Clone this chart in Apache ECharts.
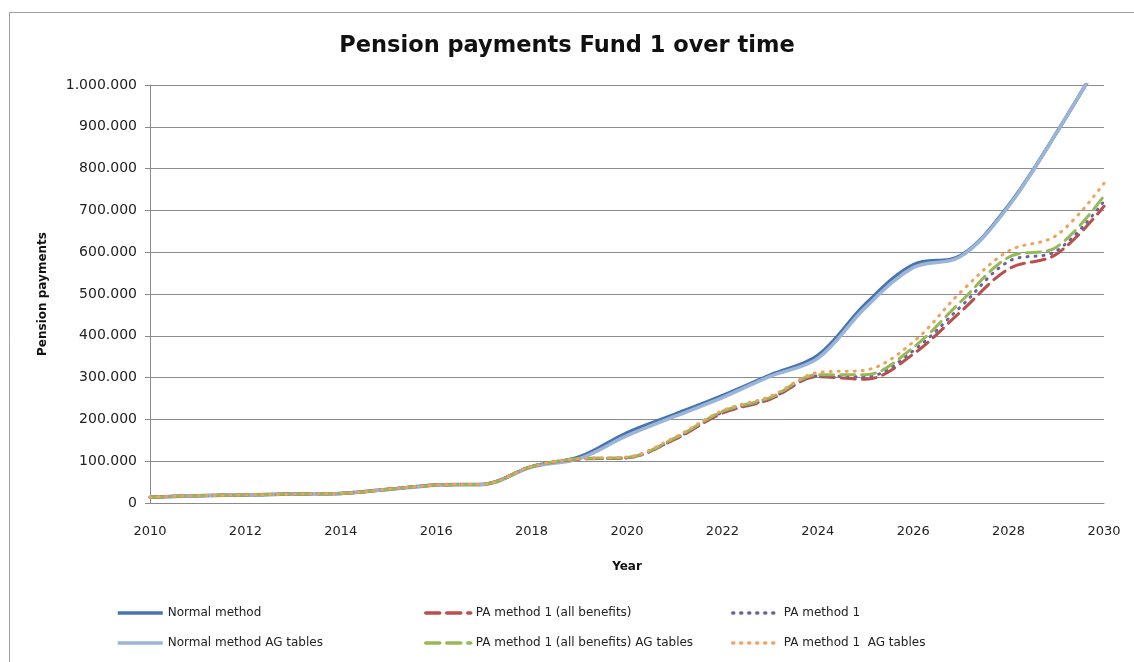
<!DOCTYPE html>
<html>
<head>
<meta charset="utf-8">
<title>Pension payments Fund 1 over time</title>
<script src="https://cdn.jsdelivr.net/npm/echarts@6/dist/echarts.min.js"></script>
<style>
  html, body { margin: 0; padding: 0; background: #ffffff; }
  #chart { width: 1134px; height: 662px; }
</style>
</head>
<body>
<div id="chart"></div>
<script>
// Years on the horizontal axis
const years = ['2010', '2011', '2012', '2013', '2014', '2015', '2016', '2017', '2018', '2019', '2020',
               '2021', '2022', '2023', '2024', '2025', '2026', '2027', '2028', '2029', '2030'];

// Yearly pension payments per method
const normalMethod =          [14000, 17500, 19000, 21500, 23000, 33000, 43000, 45000, 87000, 110000, 168000,
                               212000, 257000, 306000, 353000, 476000, 570000, 592000, 712000, 885000, 1075000];
const normalMethodAG =        [14000, 17500, 19000, 21500, 23000, 32000, 42500, 44500, 86000, 106000, 161000,
                               207000, 252000, 303000, 346000, 468000, 563000, 590000, 710000, 885000, 1075000];
const paAllBenefits =         [14000, 17500, 19000, 21500, 23000, 33000, 43000, 45000, 87000, 105000, 108000,
                               152000, 215000, 248000, 302000, 296000, 356000, 458000, 560000, 595000, 710000];
const paMethod1 =             [14000, 17500, 19000, 21500, 23000, 33000, 43000, 45000, 87000, 105000, 108000,
                               153000, 217000, 250000, 304000, 302000, 364000, 470000, 578000, 603000, 722000];
const paAllBenefitsAG =       [14000, 17500, 19000, 21500, 23000, 33000, 43000, 45000, 87000, 106000, 109000,
                               155000, 219000, 252000, 307000, 307000, 372000, 482000, 588000, 612000, 735000];
const paMethod1AG =           [14000, 17500, 19000, 21500, 23000, 33000, 43000, 45000, 87000, 106000, 110000,
                               157000, 221000, 255000, 312000, 318000, 385000, 505000, 603000, 640000, 765000];

// Value-axis tick settings
const yMin = 0;
const yMax = 1000000;
const yStep = 100000;

const FONT = 'DejaVu Sans';
const dotted = [1, 7];
const dashed = [14, 7];

function thousands(v) {
  return String(v).replace(/\B(?=(\d{3})+(?!\d))/g, '.');
}

function lineSeries(name, data, color, width, type, z) {
  return {
    name: name,
    type: 'line',
    data: data,
    smooth: 0.35,
    symbol: 'none',
    z: z,
    lineStyle: { color: color, width: width, type: type, cap: type === 'solid' ? 'butt' : 'round' },
    itemStyle: { color: color }
  };
}

const chart = echarts.init(document.getElementById('chart'), null, { renderer: 'canvas' });

const legendCommon = {
  orient: 'vertical',
  top: 602,
  itemHeight: 14,
  itemGap: 18,
  selectedMode: false,
  itemStyle: { opacity: 0 },
  lineStyle: { width: 3.5 },
  textStyle: { fontFamily: FONT, fontSize: 12, color: '#222' }
};

chart.setOption({
  backgroundColor: '#ffffff',
  animation: false,
  graphic: [{
    type: 'rect',
    shape: { x: 9.5, y: 12.5, width: 1200, height: 700 },
    style: { fill: 'none', stroke: '#a0a0a0', lineWidth: 1 },
    silent: true
  }],
  title: {
    text: 'Pension payments Fund 1 over time',
    left: 'center',
    top: 30,
    textStyle: { fontFamily: FONT, fontSize: 22.5, fontWeight: 'bold', color: '#111' }
  },
  legend: [
    Object.assign({ left: 111, itemWidth: 45, data: ['Normal method', 'Normal method AG tables'] }, legendCommon),
    Object.assign({ left: 419, itemWidth: 45, data: ['PA method 1 (all benefits)', 'PA method 1 (all benefits) AG tables'] }, legendCommon),
    Object.assign({ left: 726, itemWidth: 46, data: ['PA method 1', 'PA method 1  AG tables'] }, legendCommon)
  ],
  grid: { left: 150, right: 30, top: 85, bottom: 159, containLabel: false },
  xAxis: {
    type: 'category',
    data: years,
    boundaryGap: false,
    name: 'Year',
    nameLocation: 'middle',
    nameGap: 58,
    nameTextStyle: { fontFamily: FONT, fontSize: 12, fontWeight: 'bold', color: '#111' },
    axisLine: { lineStyle: { color: '#8a8a8a', width: 1 } },
    axisTick: { show: false },
    axisLabel: { interval: 1, margin: 22, fontFamily: FONT, fontSize: 13, color: '#222' },
    splitLine: { show: false }
  },
  yAxis: {
    type: 'value',
    min: yMin,
    max: yMax,
    interval: yStep,
    name: 'Pension payments',
    nameLocation: 'middle',
    nameRotate: 90,
    nameGap: 101,
    nameTextStyle: { fontFamily: FONT, fontSize: 12, fontWeight: 'bold', color: '#111' },
    axisLine: { show: true, lineStyle: { color: '#8a8a8a', width: 1 } },
    axisTick: { show: true, length: 5, lineStyle: { color: '#8a8a8a' } },
    axisLabel: { margin: 13, fontFamily: FONT, fontSize: 14, color: '#222', formatter: thousands },
    splitLine: { show: true, lineStyle: { color: '#8c8c8c', width: 1 } }
  },
  series: [
    lineSeries('Normal method', normalMethod, '#4874ae', 3.5, 'solid', 2),
    lineSeries('PA method 1 (all benefits)', paAllBenefits, '#ba4f4b', 3, dashed, 3),
    lineSeries('PA method 1', paMethod1, '#6a64a0', 3, dotted, 3),
    lineSeries('Normal method AG tables', normalMethodAG, '#9ab5d8', 3.5, 'solid', 2),
    lineSeries('PA method 1 (all benefits) AG tables', paAllBenefitsAG, '#97b955', 3, dashed, 3),
    lineSeries('PA method 1  AG tables', paMethod1AG, '#f2a05e', 3, dotted, 3)
  ]
});
</script>
</body>
</html>
